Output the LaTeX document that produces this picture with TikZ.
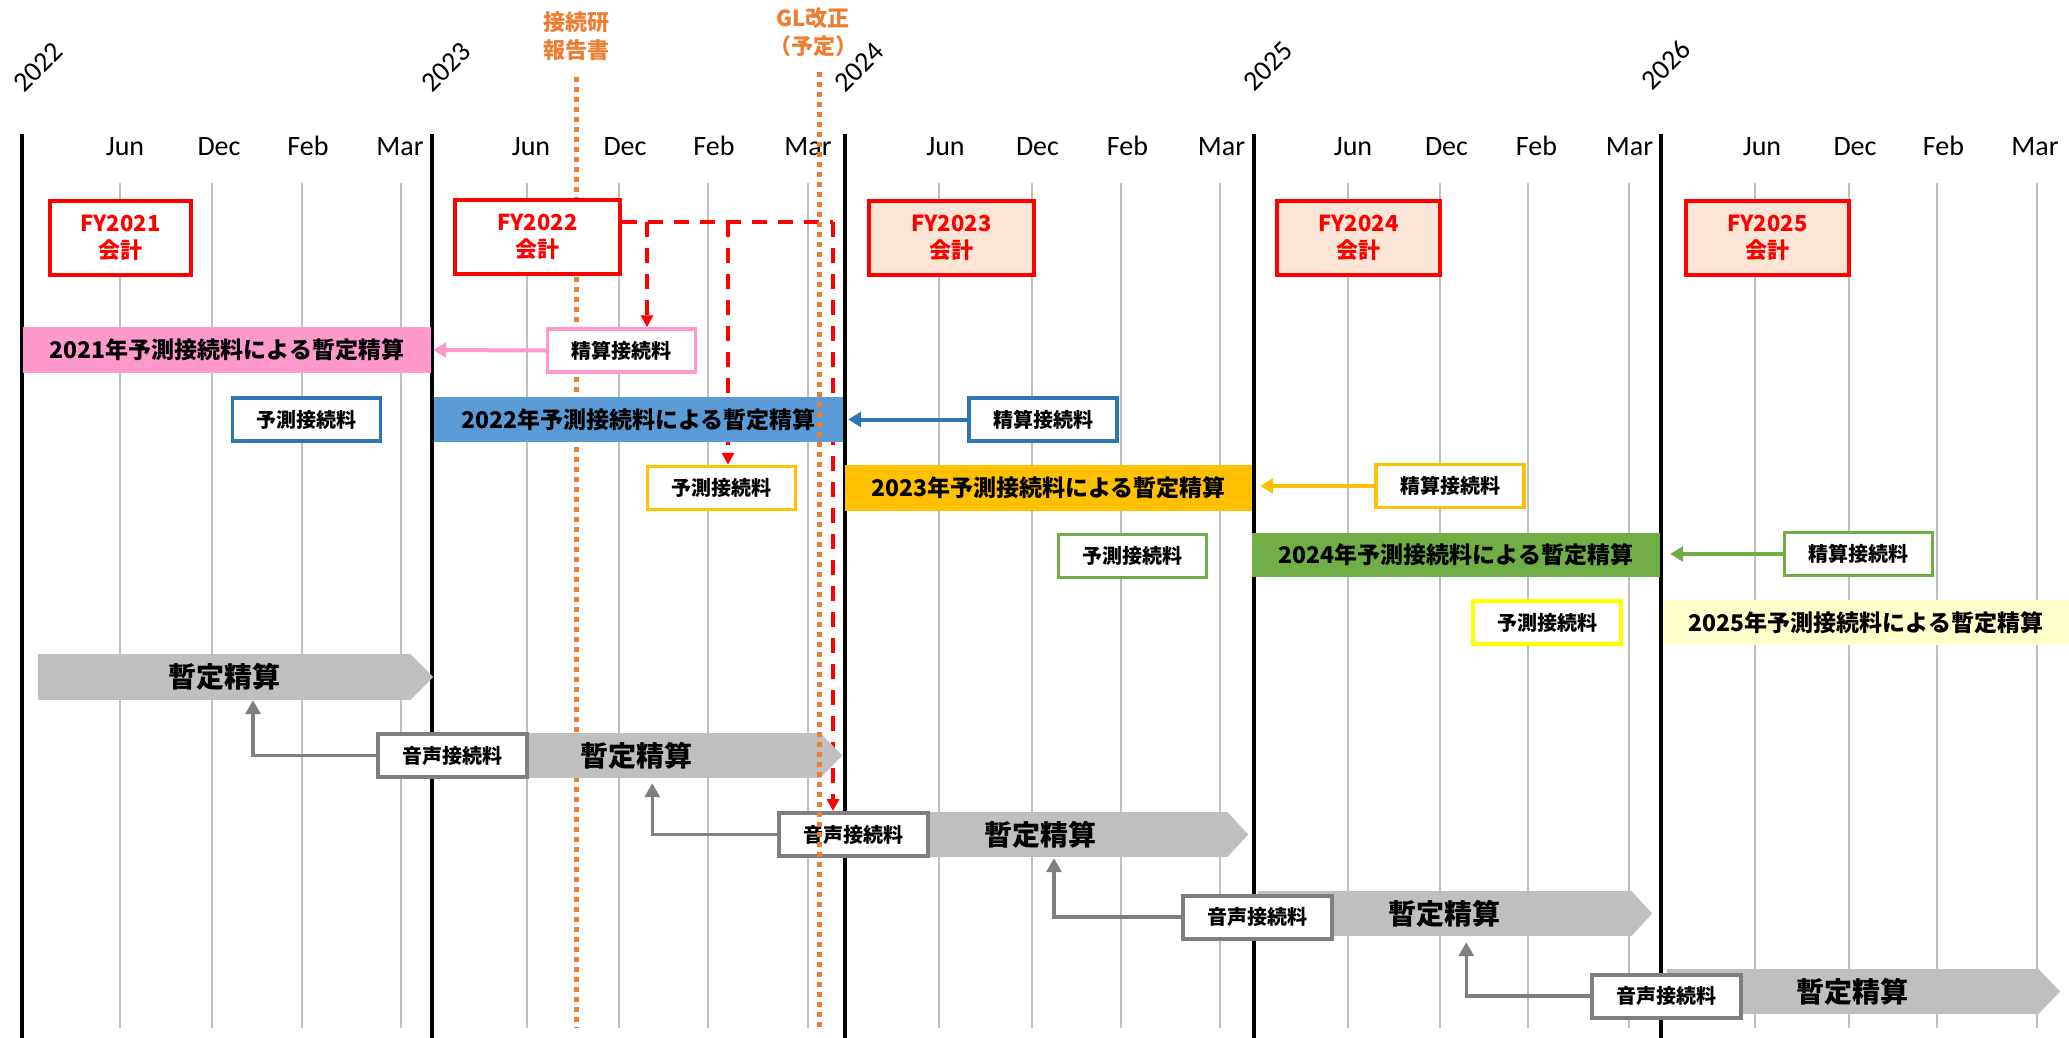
\documentclass[tikz,border=0pt]{standalone}
\usepackage{fontspec}
\newfontfamily\jpfont{Noto Sans CJK JP}
\newfontfamily\calibrifont{Carlito}
\usetikzlibrary{arrows.meta}
\pgfdeclarelayer{bg}
\pgfdeclarelayer{front}
\pgfsetlayers{bg,main,front}
\definecolor{cpink}{HTML}{FF99CC}
\definecolor{cblue}{HTML}{5B9BD5}
\definecolor{cdblue}{HTML}{2E75B6}
\definecolor{cgold}{HTML}{FFC000}
\definecolor{cgreen}{HTML}{70AD47}
\definecolor{clyel}{HTML}{FFFFCC}
\definecolor{cyel}{HTML}{FFFF00}
\definecolor{cgray}{HTML}{BFBFBF}
\definecolor{cdgray}{HTML}{7F7F7F}
\definecolor{cpeach}{HTML}{FBE5D6}
\definecolor{corange}{HTML}{ED7D31}
\definecolor{cred}{HTML}{FF0000}
\begin{document}
\begin{tikzpicture}[x=1pt,y=-1pt,
  gridline/.style={draw=cgray, line width=1.5pt},
  yearline/.style={draw=black, line width=4pt},
  monthlbl/.style={font=\calibrifont\fontsize{28}{32}\selectfont, anchor=base, inner sep=0},
  yearlbl/.style={font=\calibrifont\fontsize{28}{32}\selectfont, rotate=45, inner sep=0},
  orangelbl/.style={font=\jpfont\bfseries\fontsize{22}{28}\selectfont, text=corange, align=center, inner sep=0},
  orangedot/.style={draw=corange, line width=5pt, dash pattern=on 5pt off 5pt},
  fybox/.style={draw=cred, line width=4pt, text=cred, font=\jpfont\bfseries\fontsize{22}{27}\selectfont, align=center, inner sep=0, minimum height=74pt},
  smallbox/.style={line width=3.5pt, fill=white, font=\jpfont\bfseries\fontsize{20}{24}\selectfont, inner sep=0, minimum width=148pt, minimum height=43pt},
  bar/.style={inner sep=0, font=\jpfont\bfseries\fontsize{23}{26}\selectfont, minimum height=45pt, minimum width=408pt},
  chev/.style={fill=cgray, inner sep=0, minimum height=45pt, font=\jpfont\bfseries\fontsize{28}{32}\selectfont},
  voicebox/.style={draw=cdgray, line width=4pt, fill=white, font=\jpfont\bfseries\fontsize{20}{24}\selectfont, inner sep=0, minimum width=149pt, minimum height=43pt},
  reddash/.style={draw=cred, line width=3.5pt, dash pattern=on 15pt off 11pt},
  redtip/.style={-{Triangle[length=12pt,width=12pt]}},
  colarrow/.style={line width=4pt, -{Triangle[length=13pt,width=15pt]}},
  grayarrow/.style={draw=cdgray, line width=3.5pt, -{Triangle[length=14pt,width=15pt]}, shorten >=2pt},
]
\useasboundingbox (0,0) rectangle (2069,1038);

% month labels
\foreach \i/\x/\m in {1/125/Jun,2/219/Dec,3/308/Feb,4/400/Mar,5/531/Jun,6/625/Dec,7/714/Feb,8/808/Mar,9/945.5/Jun,10/1037.5/Dec,11/1127.5/Feb,12/1221.5/Mar,13/1353/Jun,14/1446.5/Dec,15/1536.5/Feb,16/1629.5/Mar,17/1762/Jun,18/1855/Dec,19/1943.5/Feb,20/2035/Mar}
  \node[monthlbl] (mon\i) at (\x,155) {\m};

% year labels
\foreach \yr/\x/\y in {2022/38/67,2023/446/67,2024/859/67,2025/1268/66,2026/1666/65}
  \node[yearlbl] (yr\yr) at (\x,\y) {\yr};

% orange labels
\node[orangelbl] (ken) at (576,36) {接続研\\報告書};
\node[orangelbl] (gl) at (813,32) {GL改正\\（予定）};

% FY boxes
\node[fybox, fill=white, minimum width=141pt] (fy21) at (120.5,238) {FY2021\\会計};
\node[fybox, fill=white, minimum width=165pt] (fy22) at (537.5,237) {FY2022\\会計};
\node[fybox, fill=cpeach, minimum width=165pt] (fy23) at (951.5,238) {FY2023\\会計};
\node[fybox, fill=cpeach, minimum width=163pt] (fy24) at (1358.5,238) {FY2024\\会計};
\node[fybox, fill=cpeach, minimum width=163pt] (fy25) at (1767.5,238) {FY2025\\会計};

% pink row
\node[bar, fill=cpink, minimum width=408pt, minimum height=46pt] (pinkbar) at (227,350) {2021年予測接続料による暫定精算};
\node[smallbox, draw=cpink] (pse) at (621.5,350.5) {精算接続料};
% blue row
\node[smallbox, draw=cdblue] (bye) at (306.5,419.5) {予測接続料};
\node[bar, fill=cblue, minimum width=409pt] (bluebar) at (638.5,419.5) {2022年予測接続料による暫定精算};
\node[smallbox, draw=cdblue] (bse) at (1043,419.5) {精算接続料};
% gold row
\node[smallbox, draw=cgold] (gye) at (721.5,488) {予測接続料};
\node[bar, fill=cgold, minimum width=407pt, minimum height=46pt] (goldbar) at (1048.5,488) {2023年予測接続料による暫定精算};
\node[smallbox, draw=cgold] (gse) at (1450,486) {精算接続料};
% green row
\node[smallbox, draw=cgreen] (grye) at (1132.5,556) {予測接続料};
\node[bar, fill=cgreen, minimum width=408pt, minimum height=44pt] (greenbar) at (1456,555) {2024年予測接続料による暫定精算};
\node[smallbox, draw=cgreen] (grse) at (1858.5,554) {精算接続料};
% light yellow row
\node[smallbox, draw=cyel] (yye) at (1547,622.5) {予測接続料};
\node[bar, fill=clyel, minimum width=406pt] (lyelbar) at (1866,622.5) {2025年予測接続料による暫定精算};

% colored arrows
\draw[colarrow, draw=cpink, shorten >=2pt] (pse.west) -- (pinkbar.east);
\draw[colarrow, draw=cdblue, shorten >=5pt] (bse.west) -- (bluebar.east);
\draw[colarrow, draw=cgold, shorten >=8pt] (gse.west) -- (gse.west -| goldbar.east);
\draw[colarrow, draw=cgreen, shorten >=10pt] (grse.west) -- (grse.west -| greenbar.east);

% gray chevrons
\node[chev, minimum width=372pt, minimum height=46pt] (g1) at (224,677) {暫定精算};
\fill[cgray] (g1.north east) -- ([xshift=23pt]g1.east) -- (g1.south east) -- cycle;
\node[chev, minimum width=367.5pt] (g2) at (636.25,755.5) {暫定精算};
\fill[cgray] (g2.north east) -- ([xshift=22pt]g2.east) -- (g2.south east) -- cycle;
\node[chev, minimum width=374pt] (g3) at (1040,834.5) {暫定精算};
\fill[cgray] (g3.north east) -- ([xshift=21pt]g3.east) -- (g3.south east) -- cycle;
\node[chev, minimum width=373.5pt] (g4) at (1444.25,913.5) {暫定精算};
\fill[cgray] (g4.north east) -- ([xshift=21pt]g4.east) -- (g4.south east) -- cycle;
\node[chev, minimum width=371.5pt] (g5) at (1852.25,991.5) {暫定精算};
\fill[cgray] (g5.north east) -- ([xshift=22pt]g5.east) -- (g5.south east) -- cycle;

% voice boxes
\node[voicebox] (s2) at (452.5,755.5) {音声接続料};
\node[voicebox] (s3) at (853,834.5) {音声接続料};
\node[voicebox] (s4) at (1257.5,917) {音声接続料};
\node[voicebox] (s5) at (1666.5,996) {音声接続料};

% gray connectors
\draw[grayarrow, shorten >=0pt] (s2.west) -| ([xshift=29pt]g1.south);
\draw[grayarrow, shorten >=5pt] (s3.west) -| ([xshift=16pt]g2.south);
\draw[grayarrow, shorten >=1pt] (s4.west) -| ([xshift=14pt]g3.south);
\draw[grayarrow, shorten >=6pt] (s5.west) -| ([xshift=22pt]g4.south);

% red dashed targets
\coordinate (rdA) at ([yshift=15pt]fy22.east);
\coordinate (t1) at ([xshift=25.5pt]pse.north);
\coordinate (t2) at ([xshift=6.5pt]gye.north);
\coordinate (t3) at ([xshift=-20pt]s3.north);

\begin{pgfonlayer}{bg}
  \foreach \x in {120,212,302,401,527,619,708,808,939,1032,1121,1220,1348,1440,1528,1629,1755,1849,1937,2037}
    \draw[gridline] (\x,183) -- (\x,1028);
  \foreach \x in {22,431.5,844.5,1253.5,1661}
    \draw[yearline] (\x,134) -- (\x,1038);
  \draw[orangedot] (ken.south |- 0,77) -- (ken.south |- 0,1028);
  \draw[reddash] (rdA) -- (t3 |- rdA);
  \draw[reddash, redtip] (t3 |- rdA) -- (t3);
  \draw[reddash, redtip] (t1 |- rdA) -- (t1);
  \draw[reddash, redtip] (t2 |- rdA) -- (t2);
\end{pgfonlayer}

\begin{pgfonlayer}{front}
  \draw[orangedot] (819,72) -- (819,1028);
\end{pgfonlayer}
\end{tikzpicture}
\end{document}
